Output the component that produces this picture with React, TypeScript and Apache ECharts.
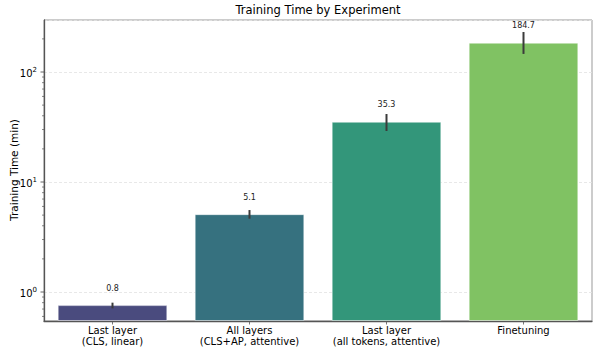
import { useEffect, useRef } from "react";
import * as echarts from "echarts";

const categories = [
  "Last layer\n(CLS, linear)",
  "All layers\n(CLS+AP, attentive)",
  "Last layer\n(all tokens, attentive)",
  "Finetuning",
];
const meanTimes = [0.76, 5.1, 35.3, 184.7];
const errLow = [0.71, 4.64, 29.1, 146];
const errHigh = [0.8, 5.56, 41.5, 231];
const barColors = ["#4a4b7e", "#36717f", "#33967a", "#80c263"];
const yMin = 0.545;
const yMax = 297;
const majorTicks = [1, 10, 100];
const minorTicks = [0.6, 0.7, 0.8, 0.9, 2, 3, 4, 5, 6, 7, 8, 9, 20, 30, 40, 50, 60, 70, 80, 90, 200];

const FONT = "DejaVu Sans";
const LABEL_FACTOR = 1.42;

export default function App() {
  const ref = useRef<HTMLDivElement>(null);
  useEffect(() => {
    document.body.style.margin = "0";
    const chart = echarts.init(ref.current!, null, { renderer: "svg" });
    const errData = categories.map((_, i) => [i, errLow[i], errHigh[i], meanTimes[i]]);
    const tickData = [
      ...majorTicks.map((v) => [0, v, 1]),
      ...minorTicks.map((v) => [0, v, 0]),
    ];
    chart.setOption({
      animation: false,
      textStyle: { fontFamily: FONT },
      graphic: [
        {
          type: "text",
          x: 318,
          y: 10,
          style: {
            text: "Training Time by Experiment",
            align: "center",
            verticalAlign: "middle",
            fontSize: 11.5,
            fontFamily: FONT,
            fill: "#000",
          },
        },
        {
          type: "text",
          x: 14,
          y: 170,
          rotation: Math.PI / 2,
          style: {
            text: "Training Time (min)",
            align: "center",
            verticalAlign: "middle",
            fontSize: 10.5,
            fontFamily: FONT,
            fill: "#000",
          },
        },
      ],
      grid: {
        left: 44,
        right: 6,
        top: 20,
        bottom: 33,
        show: true,
        borderColor: "#999",
        borderWidth: 1,
        backgroundColor: "transparent",
        containLabel: false,
        outerBoundsMode: "none",
      },
      xAxis: {
        type: "category",
        data: categories,
        axisLine: { show: true, lineStyle: { color: "#555", width: 1.3 } },
        axisTick: { show: true, alignWithLabel: true, length: 3.5, lineStyle: { color: "#555", width: 0.8 } },
        axisLabel: {
          color: "#000",
          fontSize: 10,
          lineHeight: 11,
          margin: 4,
          fontFamily: FONT,
          interval: 0,
        },
        splitLine: { show: false },
      },
      yAxis: {
        type: "log",
        logBase: 10,
        min: yMin,
        max: yMax,
        startValue: yMin,
        axisLine: { show: true, lineStyle: { color: "#555", width: 1.3 } },
        axisTick: { show: false },
        splitLine: { show: true, lineStyle: { color: "#e2e2e2", width: 0.8, type: [3, 2] } },
        axisLabel: {
          margin: 7,
          showMinLabel: false,
          showMaxLabel: false,
          formatter: (v: number) => {
            const l = Math.log10(v);
            const e = Math.round(l);
            if (Math.abs(l - e) > 1e-6) return "";
            return `{base|10}{sup|${e}}`;
          },
          rich: {
            base: { fontSize: 10, lineHeight: 12, verticalAlign: "bottom", color: "#000", fontFamily: FONT },
            sup: { fontSize: 7, lineHeight: 12, verticalAlign: "top", color: "#000", fontFamily: FONT },
          },
        },
      },
      series: [
        {
          type: "bar",
          data: meanTimes.map((v, i) => ({ value: v, itemStyle: { color: barColors[i] } })),
          barWidth: "80%",
          itemStyle: { borderColor: "rgba(255,255,255,0.45)", borderWidth: 1 },
          z: 2,
        },
        {
          type: "custom",
          data: errData,
          encode: { x: 0, y: [1, 2] },
          z: 5,
          renderItem: (params: any, api: any) => {
            const i = api.value(0);
            const lo = api.coord([i, api.value(1)]);
            const hi = api.coord([i, api.value(2)]);
            const lab = api.coord([i, api.value(3) * LABEL_FACTOR]);
            return {
              type: "group",
              children: [
                {
                  type: "line",
                  shape: { x1: lo[0], y1: lo[1], x2: hi[0], y2: hi[1] },
                  style: { stroke: "#3b3b3b", lineWidth: 2 },
                },
                {
                  type: "text",
                  x: lab[0],
                  y: lab[1],
                  style: {
                    text: meanTimes[i].toFixed(1),
                    align: "center",
                    verticalAlign: "middle",
                    fontSize: 8,
                    fontFamily: FONT,
                    fill: "#222",
                  },
                },
              ],
            };
          },
        },
        {
          type: "custom",
          data: tickData,
          encode: { x: 0, y: 1 },
          z: 5,
          silent: true,
          renderItem: (params: any, api: any) => {
            const y = api.coord([0, api.value(1)])[1];
            const x0 = params.coordSys.x;
            const len = api.value(2) ? 3.5 : 2;
            return {
              type: "line",
              shape: { x1: x0 - len, y1: y, x2: x0, y2: y },
              style: { stroke: "#555", lineWidth: api.value(2) ? 0.9 : 0.7 },
            };
          },
        },
      ],
    });
    return () => chart.dispose();
  }, []);
  return <div ref={ref} style={{ width: 598, height: 354 }} />;
}
